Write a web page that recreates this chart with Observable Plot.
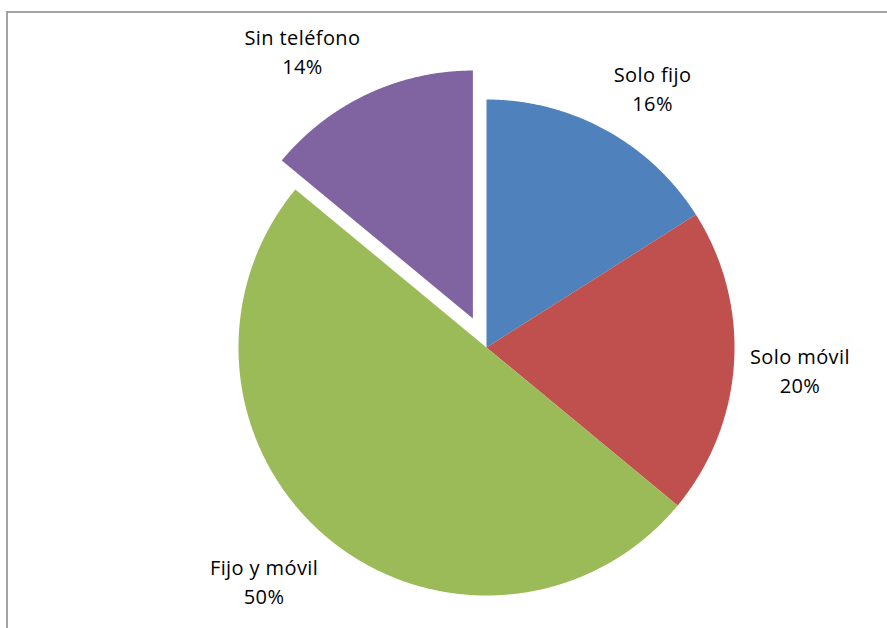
<!DOCTYPE html>
<html>
<head>
<meta charset="utf-8">
<script src="https://cdn.jsdelivr.net/npm/d3@7"></script>
<script src="https://cdn.jsdelivr.net/npm/@observablehq/plot@0.6"></script>
<style>
  html, body { margin: 0; padding: 0; background: #fff; overflow: hidden; }
  #wrap { position: relative; width: 887px; height: 628px; }
  #frame { position: absolute; left: 6px; top: 11px; width: 1000px; height: 800px;
           border-left: 2px solid #a3a3a3; border-top: 2px solid #a3a3a3; }
  #chart { position: absolute; left: 0; top: 0; }
  #chart text { letter-spacing: 0.4px; }
</style>
</head>
<body>
<div id="wrap"><div id="frame"></div><div id="chart"></div></div>
<script>
// ---- data ----
const categories = ["Solo fijo", "Solo móvil", "Fijo y móvil", "Sin teléfono"];
const shares = [16, 20, 50, 14];
const percentLabels = ["16%", "20%", "50%", "14%"];
const explodedCategories = ["Sin teléfono"];

// ---- styles / layout ----
const colors = ["#4F81BD", "#C0504D", "#9BBB59", "#8064A2"];
const W = 887, H = 628;
const cx = 486, cy = 347, R = 248, explodeDist = 32;
const labelGap = 16;
const fontFamily = "'Open Sans', 'Noto Sans', sans-serif";
const fontSize = 20;
const lineH = 29;

const rows = categories.map((c, i) => ({cat: c, share: shares[i], pct: percentLabels[i]}));
const arcs = d3.pie().sort(null).value(d => d.share)(rows);

// measure text widths
const ctx = document.createElement("canvas").getContext("2d");
ctx.font = `${fontSize}px ${fontFamily}`;

const slicePts = [];
const labels = [];
const clamp = v => Math.max(-1, Math.min(1, v));
arcs.forEach(a => {
  const cat = a.data.cat;
  const mid = (a.startAngle + a.endAngle) / 2;
  const off = explodedCategories.includes(cat) ? explodeDist : 0;
  const ox = cx + off * Math.sin(mid), oy = cy - off * Math.cos(mid);
  slicePts.push({cat, x: ox, y: oy});
  const n = Math.ceil((a.endAngle - a.startAngle) / (Math.PI / 720));
  for (let i = 0; i <= n; i++) {
    const t = a.startAngle + (a.endAngle - a.startAngle) * i / n;
    slicePts.push({cat, x: ox + R * Math.sin(t), y: oy - R * Math.cos(t)});
  }
  // label placement: outside end, box corner on the mid-angle ray
  const s = Math.sin(mid), c = Math.cos(mid);
  const px = ox + (R + labelGap) * s, py = oy - (R + labelGap) * c;
  const w = Math.max(ctx.measureText(cat).width, ctx.measureText(a.data.pct).width) + 0.4 * cat.length;
  const hw = w / 2, hh = lineH;
  labels.push({
    text: cat + "\n" + a.data.pct,
    x: px + hw * clamp(3 * s),
    y: py - hh * clamp(3 * c)
  });
});

const plot = Plot.plot({
  width: W, height: H,
  margin: 0,
  x: {type: "identity", axis: null},
  y: {type: "identity", axis: null},
  color: {domain: categories, range: colors},
  style: {fontFamily, background: "transparent"},
  marks: [
    Plot.line(slicePts, {x: "x", y: "y", z: "cat", fill: "cat", stroke: "none", curve: "linear-closed"}),
    Plot.text(labels, {x: "x", y: "y", text: "text", textAnchor: "middle", lineAnchor: "middle",
                       lineHeight: lineH / fontSize, fontSize, fill: "#000"})
  ]
});
document.getElementById("chart").appendChild(plot);
</script>
</body>
</html>
